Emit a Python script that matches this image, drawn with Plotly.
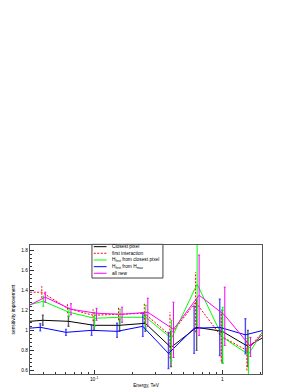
import plotly.graph_objects as go

# ---------------- data ----------------
energy = [0.0251, 0.0398, 0.0631, 0.1, 0.158, 0.251, 0.398, 0.631, 1.0, 1.585, 2.512]

names = ["Closest pixel", "first interaction", "H<sub>first</sub> from closest pixel",
         "H<sub>first</sub> from H<sub>max</sub>", "all new"]

closest = [1.08, 1.10, 1.09, 1.05, 1.05, 1.07, 0.83, 1.03, 0.99, 0.84, 0.99]
closest_up = [0, 0.05, 0.05, 0.05, 0.06, 0.08, 0.16, 0.27, 0.21, 0.16, 0]
closest_dn = [0, 0.05, 0.05, 0.05, 0.06, 0.08, 0.19, 0.23, 0.31, 0.20, 0]

first_int = [1.38, 1.38, 1.22, 1.15, 1.16, 1.17, 0.95, 1.28, 0.94, 0.80, 1.10]
first_up = [0, 0.06, 0.05, 0.06, 0.07, 0.10, 0.23, 0.30, 0.24, 0.12, 0]
first_dn = [0, 0.06, 0.05, 0.06, 0.06, 0.10, 0.23, 0.30, 0.25, 0.20, 0]

hfirst_closest = [1.225, 1.29, 1.18, 1.12, 1.13, 1.13, 0.92, 1.46, 0.93, 0.76, 1.17]
hfirst_closest_up = [0, 0.05, 0.04, 0.06, 0.08, 0.12, 0.18, 0.45, 0.30, 0.17, 0]
hfirst_closest_dn = [0, 0.05, 0.04, 0.08, 0.07, 0.11, 0.22, 0.41, 0.26, 0.22, 0]

hfirst_hmax = [1.01, 1.03, 0.98, 1.00, 0.99, 1.04, 0.77, 1.02, 1.03, 0.955, 1.02]
hfirst_hmax_up = [0, 0.035, 0.03, 0.05, 0.08, 0.13, 0.21, 0.22, 0.28, 0.16, 0]
hfirst_hmax_dn = [0, 0.035, 0.03, 0.05, 0.06, 0.10, 0.15, 0.25, 0.28, 0.19, 0]

all_new = [1.20, 1.33, 1.21, 1.17, 1.16, 1.18, 1.01, 1.35, 1.15, 0.84, 1.09]
all_new_up = [0, 0.05, 0.055, 0.05, 0.07, 0.14, 0.27, 0.40, 0.28, 0.09, 0]
all_new_dn = [0, 0.05, 0.055, 0.07, 0.08, 0.14, 0.28, 0.40, 0.30, 0.10, 0]

x_tickvals = [0.1, 1]
x_ticktext = ["10<sup>-1</sup>", "1"]
y_tickvals = [0.6, 0.8, 1.0, 1.2, 1.4, 1.6, 1.8]
y_ticktext = ["0.6", "0.8", "1", "1.2", "1.4", "1.6", "1.8"]

# ---------------- styling ----------------
FONT = "Liberation Sans, Arial, sans-serif"
FS = 4.8
series = [
    (closest, closest_up, closest_dn, "#000000", "rgba(40,40,40,0.75)", "solid", 1.0, 1.4),
    (first_int, first_up, first_dn, "#ff0000", "#ff0000", "2px,1.5px", 0.982, 1.0),
    (hfirst_closest, hfirst_closest_up, hfirst_closest_dn, "#00ff00", "#00ff00", "solid", 1.009, 1.0),
    (hfirst_hmax, hfirst_hmax_up, hfirst_hmax_dn, "#0000ff", "rgba(0,0,255,0.7)", "solid", 0.956, 1.4),
    (all_new, all_new_up, all_new_dn, "#ff00ff", "#ff00ff", "solid", 1.046, 1.0),
]

fig = go.Figure()
for (vals, up, dn, col, ecol, dash, shift, ethick) in series:
    xs = [e * shift for e in energy]
    if dash == "solid":
        fig.add_trace(go.Scatter(
            x=xs, y=vals, mode="lines", line=dict(color=col, width=1),
            error_y=dict(type="data", symmetric=False, array=up, arrayminus=dn,
                         color=ecol, thickness=ethick, width=1),
            showlegend=False, hoverinfo="skip"))
    else:
        fig.add_trace(go.Scatter(
            x=xs, y=vals, mode="lines", line=dict(color=col, width=1, dash=dash),
            showlegend=False, hoverinfo="skip"))
        ex, ey = [], []
        for xv, v, u, d in zip(xs, vals, up, dn):
            if u == 0 and d == 0:
                continue
            ex += [xv, xv, None]
            ey += [v - d, v + u, None]
        fig.add_trace(go.Scatter(
            x=ex, y=ey, mode="lines", line=dict(color=col, width=1, dash=dash),
            showlegend=False, hoverinfo="skip"))

# manual ROOT-style legend
shapes = [dict(type="rect", xref="paper", yref="paper", x0=0.267, x1=0.573,
               y0=0.744, y1=1.005, line=dict(color="#444444", width=1),
               fillcolor="white", layer="above")]
annotations = []
legend_y = [0.987, 0.936, 0.884, 0.832, 0.781]
for (s, name, ly) in zip(series, names, legend_y):
    col, dash = s[3], s[5]
    shapes.append(dict(type="line", xref="paper", yref="paper", x0=0.275, x1=0.33,
                       y0=ly, y1=ly, line=dict(color=col, width=1,
                                               dash=None if dash == "solid" else dash),
                       layer="above"))
    annotations.append(dict(xref="paper", yref="paper", x=0.345, y=ly, text=name,
                            showarrow=False, xanchor="left", yanchor="middle",
                            font=dict(family=FONT, size=FS, color="#000000")))

fig.update_layout(
    width=293, height=390,
    margin=dict(l=30, r=31, t=245, b=16, autoexpand=False),
    paper_bgcolor="white", plot_bgcolor="white",
    font=dict(family=FONT, size=FS, color="#000000"),
    shapes=shapes, annotations=annotations,
    showlegend=False,
)
fig.update_xaxes(
    type="log", range=[-1.5, 0.31], automargin=False,
    showline=True, mirror=True, linecolor="#555555", linewidth=1,
    showgrid=False, zeroline=False,
    ticks="inside", ticklen=4, tickcolor="#333333", tickwidth=1,
    tickvals=x_tickvals, ticktext=x_ticktext,
    tickfont=dict(family=FONT, size=FS),
    minor=dict(ticks="inside", ticklen=2, tickcolor="#333333",
               tickvals=[0.04, 0.05, 0.06, 0.07, 0.08, 0.09,
                         0.2, 0.3, 0.4, 0.5, 0.6, 0.7, 0.8, 0.9, 2]),
    title=dict(text="Energy, TeV", font=dict(family=FONT, size=FS), standoff=2),
)
fig.update_yaxes(
    range=[0.565, 1.85], automargin=False,
    showline=True, mirror=True, linecolor="#555555", linewidth=1,
    showgrid=False, zeroline=False,
    ticks="inside", ticklen=4, tickcolor="#333333", tickwidth=1,
    tickvals=y_tickvals, ticktext=y_ticktext,
    tickfont=dict(family=FONT, size=FS),
    minor=dict(ticks="inside", ticklen=2, tickcolor="#333333", dtick=0.04, tick0=0.6),
    title=dict(text="sensitivity improvement", font=dict(family=FONT, size=FS), standoff=5),
)

# remove the default 8px page margin so the figure fills the window exactly
fig.write_html("out.html",
               config={"displayModeBar": False, "staticPlot": True},
               post_script="document.body.style.margin='0';document.body.style.overflow='hidden';")
